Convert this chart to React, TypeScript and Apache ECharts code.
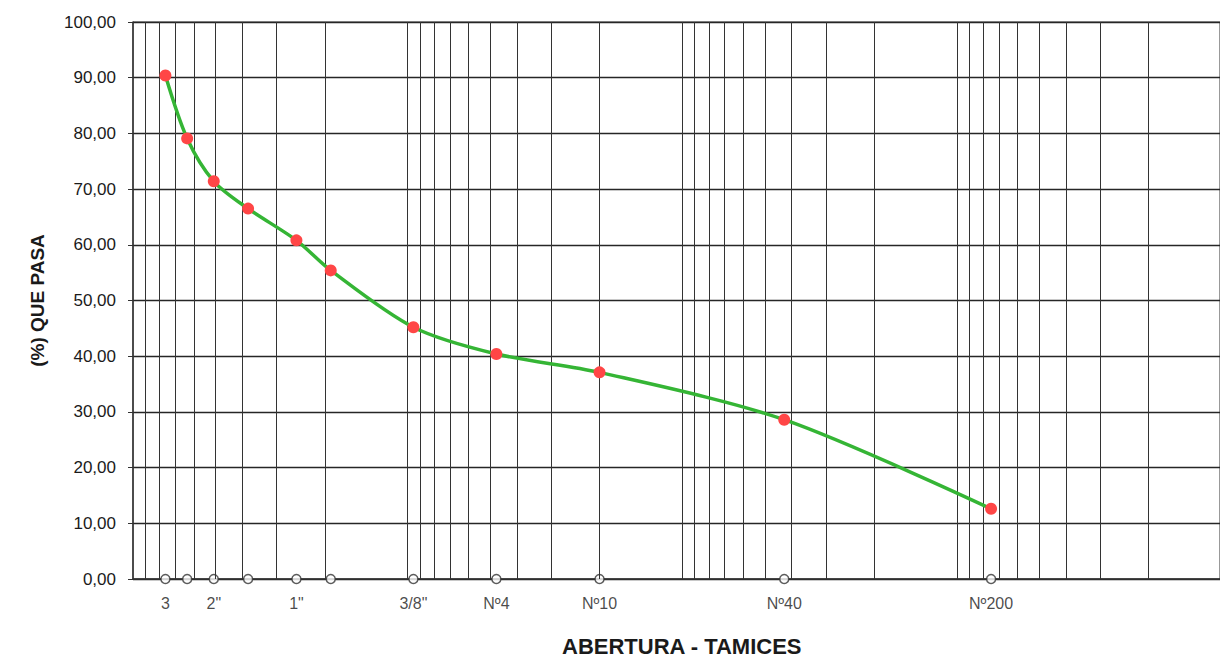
import React, { useEffect, useRef } from "react";
import * as echarts from "echarts";

// Sieve series (opening in mm) and % passing
const sieveNames = ['3"', '2 1/2"', '2"', '1 1/2"', '1"', '3/4"', '3/8"', "Nº4", "Nº10", "Nº40", "Nº200"];
const sieveLabels = ["3", "", '2"', "", '1"', "", '3/8"', "Nº4", "Nº10", "Nº40", "Nº200"];
const openingsMm = [76.2, 63.5, 50.8, 38.1, 25.4, 19.05, 9.525, 4.75, 2.0, 0.425, 0.075];
const percentPassing = [90.4, 79.1, 71.4, 66.5, 60.8, 55.4, 45.2, 40.4, 37.1, 28.6, 12.6];

// Log grid: one vertical line per multiplier in each decade
const gridDecades = [10, 1, 0.1, 0.01];
const gridMultipliers = [1, 2, 3, 4, 5, 6, 7, 8, 9];

// Visible x range (mm): the plot is cut just before 0.01 mm on the right
const xMaxMm = 100;
const xMinMm = 0.011;

const FONT = "'Liberation Sans', Arial, Helvetica, sans-serif";

export default function App() {
  const ref = useRef<HTMLDivElement>(null);

  useEffect(() => {
    if (!ref.current) return;
    const chart = echarts.init(ref.current, null, { renderer: "svg", width: 1220, height: 659 });

    const gridValues: number[] = [];
    gridDecades.forEach((d) =>
      gridMultipliers.forEach((m) => {
        const v = m * d;
        if (v >= xMinMm && v <= xMaxMm) gridValues.push(v);
      })
    );

    chart.setOption({
      animation: false,
      backgroundColor: "#ffffff",
      grid: {
        left: 133,
        right: 0,
        top: 22,
        bottom: 80,
        show: true,
        borderColor: "#333333",
        borderWidth: 1,
        containLabel: false,
      },
      graphic: [
        {
          type: "text",
          left: 562,
          bottom: 2,
          style: {
            text: "ABERTURA - TAMICES",
            fontFamily: FONT,
            fontSize: 22,
            fontWeight: "bold",
            fill: "#1a1a1a",
          },
        },
      ],
      xAxis: {
        type: "log",
        logBase: 10,
        min: xMinMm,
        max: xMaxMm,
        inverse: true,
        axisLine: { show: true, lineStyle: { color: "#333333", width: 1.5 } },
        axisTick: { show: false },
        axisLabel: { show: false },
        splitLine: { show: false },
      },
      yAxis: {
        type: "value",
        min: 0,
        max: 100,
        interval: 10,
        name: "(%) QUE PASA",
        nameLocation: "middle",
        nameGap: 86,
        nameRotate: 90,
        nameTextStyle: { fontFamily: FONT, fontSize: 19, fontWeight: "bold", color: "#1a1a1a" },
        axisLine: { show: true, lineStyle: { color: "#333333", width: 1.5 } },
        axisTick: { show: true, length: 5, lineStyle: { color: "#333333" } },
        axisLabel: {
          margin: 17,
          fontFamily: FONT,
          fontSize: 17,
          color: "#1a1a1a",
          formatter: (v: number) => v.toFixed(2).replace(".", ","),
        },
        splitLine: { show: true, lineStyle: { color: "#262626", width: 1.4 } },
      },
      series: [
        {
          name: "grid",
          type: "line",
          data: [],
          silent: true,
          markLine: {
            silent: true,
            symbol: "none",
            label: { show: false },
            lineStyle: { color: "#333333", width: 1, type: "solid" },
            data: gridValues.map((v) => ({ xAxis: v })),
          },
        },
        {
          name: "tamices",
          type: "scatter",
          clip: false,
          z: 4,
          symbol: "circle",
          symbolSize: 9,
          itemStyle: { color: "#ffffff", borderColor: "#333333", borderWidth: 1.5 },
          label: {
            show: true,
            position: "bottom",
            distance: 11,
            fontFamily: FONT,
            fontSize: 16,
            color: "#1a1a1a",
            formatter: (p: any) => sieveLabels[p.dataIndex],
          },
          data: openingsMm.map((o, i) => ({ name: sieveNames[i], value: [o, 0] })),
        },
        {
          name: "% que pasa",
          type: "line",
          smooth: 0.3,
          z: 5,
          symbol: "circle",
          symbolSize: 12,
          lineStyle: { color: "#35b535", width: 3.5 },
          itemStyle: { color: "#ff4646" },
          data: openingsMm.map((o, i) => [o, percentPassing[i]]),
        },
      ],
    });

    return () => chart.dispose();
  }, []);

  return (
    <div
      ref={ref}
      style={{ position: "fixed", left: 0, top: 0, width: 1220, height: 659, background: "#fff" }}
    />
  );
}
